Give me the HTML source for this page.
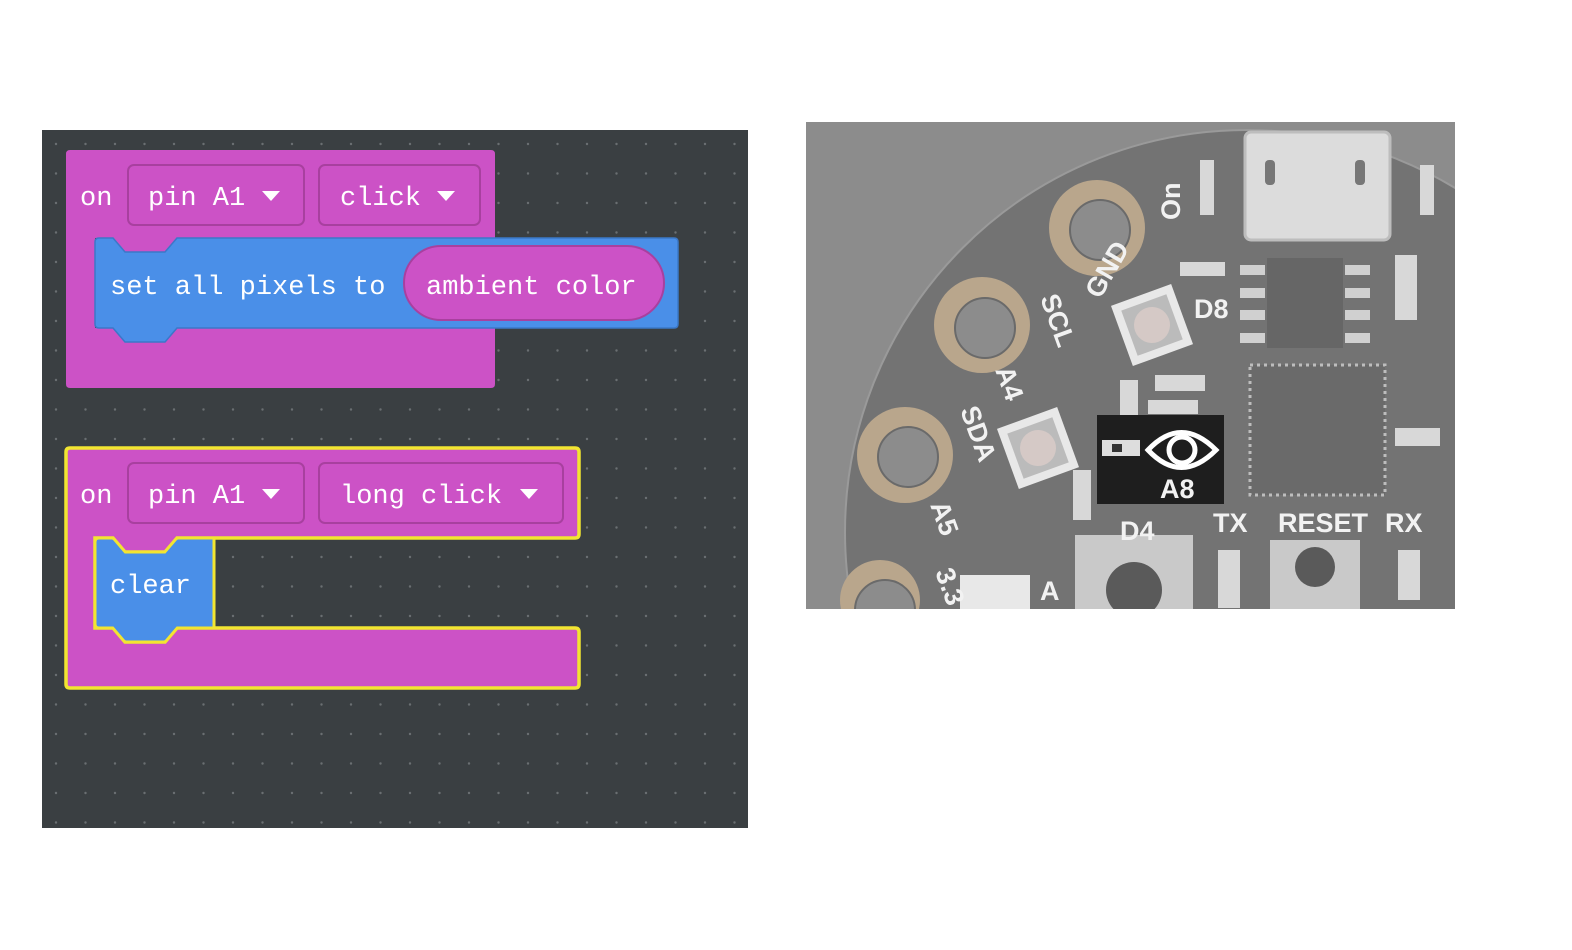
<!DOCTYPE html>
<html><head><meta charset="utf-8"><style>
html,body{margin:0;padding:0;background:#fff;}
svg{display:block}
text{font-family:"Liberation Mono",monospace;fill:#fff;font-size:27px}
.pl{font-family:"Liberation Sans",sans-serif;fill:#f2f2f2;font-weight:bold}
</style></head><body>
<svg width="1572" height="950" viewBox="0 0 1572 950" xmlns="http://www.w3.org/2000/svg">
<defs>
<pattern id="dots" x="42" y="130" width="29.5" height="29.5" patternUnits="userSpaceOnUse">
<circle cx="14" cy="14" r="1.2" fill="#6a6f72"/>
</pattern>
<clipPath id="photo"><rect x="806" y="122" width="649" height="487"/></clipPath>
</defs>
<rect x="42" y="130" width="706" height="698" fill="#3a3f42"/>
<rect x="42" y="130" width="706" height="698" fill="url(#dots)"/>

<!-- block 1 -->
<path d="M70 150 H491 Q495 150 495 154 V238 H177 L165 252 H125 L113 238 H95 V328 H495 V384 Q495 388 491 388 H70 Q66 388 66 384 V154 Q66 150 70 150 Z" fill="#cc52c6"/>
<rect x="128" y="165" width="176" height="60" rx="6" fill="#cc52c6" stroke="#a8409f" stroke-width="2"/>
<rect x="319" y="165" width="161" height="60" rx="6" fill="#cc52c6" stroke="#a8409f" stroke-width="2"/>
<text x="80" y="205">on</text>
<text x="148" y="205">pin A1</text>
<path d="M262 191 h18 l-9 10 z" fill="#fff"/>
<text x="340" y="205">click</text>
<path d="M437 191 h18 l-9 10 z" fill="#fff"/>
<path d="M99 238 H113 L125 252 H165 L177 238 H674 Q678 238 678 242 V324 Q678 328 674 328 H177 L165 342 H125 L113 328 H99 Q95 328 95 324 V242 Q95 238 99 238 Z" fill="#4a8fe8" stroke="#3b78c8" stroke-width="1.5"/>
<text x="110" y="294">set all pixels to</text>
<rect x="404" y="246" width="260" height="74" rx="37" fill="#cc52c6" stroke="#a8409f" stroke-width="2"/>
<text x="426" y="294">ambient color</text>

<!-- block 2 -->
<path d="M70 448 H575 Q579 448 579 452 V534 Q579 538 575 538 H177 L165 552 H125 L113 538 H95 V628 H113 L125 642 H165 L177 628 H575 Q579 628 579 632 V684 Q579 688 575 688 H70 Q66 688 66 684 V452 Q66 448 70 448 Z" fill="#cc52c6" stroke="#f2e531" stroke-width="3.5"/>
<rect x="128" y="463" width="176" height="60" rx="6" fill="#cc52c6" stroke="#a8409f" stroke-width="2"/>
<rect x="319" y="463" width="244" height="60" rx="6" fill="#cc52c6" stroke="#a8409f" stroke-width="2"/>
<text x="80" y="503">on</text>
<text x="148" y="503">pin A1</text>
<path d="M262 489 h18 l-9 10 z" fill="#fff"/>
<text x="340" y="503">long click</text>
<path d="M520 489 h18 l-9 10 z" fill="#fff"/>
<path d="M99 538 H113 L125 552 H165 L177 538 H214 V628 H177 L165 642 H125 L113 628 H99 Q95 628 95 624 V542 Q95 538 99 538 Z" fill="#4a8fe8" stroke="#f2e531" stroke-width="3"/>
<path d="M113 540 L125 554 H165 L177 540 H212 V626 H177 L165 640 H125 L113 626 H97 V540 Z" fill="#4a8fe8"/>
<text x="110" y="593">clear</text>

<!-- photo -->
<g clip-path="url(#photo)">
<rect x="806" y="122" width="649" height="487" fill="#8c8c8c"/>
<circle cx="1247" cy="532" r="402" fill="#737373" stroke="#9a9a9a" stroke-width="2"/>
<g fill="#b9a68c">
<circle cx="1097" cy="228" r="48"/><circle cx="982" cy="325" r="48"/><circle cx="905" cy="455" r="48"/><circle cx="880" cy="600" r="40"/>
</g>
<g fill="#8c8c8c" stroke="#6a6a6a" stroke-width="2">
<circle cx="1100" cy="230" r="30"/><circle cx="985" cy="328" r="30"/><circle cx="908" cy="457" r="30"/><circle cx="885" cy="610" r="30"/>
</g>
<rect x="1245" y="132" width="145" height="108" rx="6" fill="#dcdcdc" stroke="#bdbdbd" stroke-width="3"/>
<rect x="1265" y="160" width="10" height="25" rx="4" fill="#777"/><rect x="1355" y="160" width="10" height="25" rx="4" fill="#777"/>
<rect x="1267" y="258" width="76" height="90" fill="#666"/>
<g fill="#d0d0d0"><rect x="1240" y="265" width="25" height="10"/><rect x="1240" y="288" width="25" height="10"/><rect x="1240" y="310" width="25" height="10"/><rect x="1240" y="333" width="25" height="10"/><rect x="1345" y="265" width="25" height="10"/><rect x="1345" y="288" width="25" height="10"/><rect x="1345" y="310" width="25" height="10"/><rect x="1345" y="333" width="25" height="10"/></g>
<rect x="1250" y="365" width="135" height="130" fill="#6a6a6a" stroke="#bdbdbd" stroke-width="3" stroke-dasharray="3 4"/>
<g transform="rotate(-20 1152 325)"><rect x="1120" y="293" width="64" height="64" fill="#e8e8e8"/><rect x="1128" y="301" width="48" height="48" fill="#bbb"/><circle cx="1152" cy="325" r="18" fill="#d5c9c6"/></g>
<g transform="rotate(-20 1038 448)"><rect x="1006" y="416" width="64" height="64" fill="#e8e8e8"/><rect x="1014" y="424" width="48" height="48" fill="#bbb"/><circle cx="1038" cy="448" r="18" fill="#d5c9c6"/></g>
<rect x="960" y="575" width="70" height="40" fill="#e8e8e8"/>
<rect x="1075" y="535" width="118" height="80" fill="#c9c9c9"/><circle cx="1134" cy="590" r="28" fill="#5a5a5a"/>
<rect x="1270" y="540" width="90" height="70" fill="#c9c9c9"/><circle cx="1315" cy="567" r="20" fill="#5a5a5a"/>
<g fill="#d8d8d8"><rect x="1180" y="262" width="45" height="14"/><rect x="1155" y="375" width="50" height="16"/><rect x="1148" y="400" width="50" height="14"/><rect x="1120" y="380" width="18" height="45"/><rect x="1073" y="470" width="18" height="50"/><rect x="1395" y="428" width="45" height="18"/><rect x="1200" y="160" width="14" height="55"/><rect x="1420" y="165" width="14" height="50"/><rect x="1395" y="255" width="22" height="65"/><rect x="1218" y="550" width="22" height="58"/><rect x="1398" y="550" width="22" height="50"/></g>
<rect x="1097" y="415" width="127" height="89" fill="#1e1e1e"/>
<rect x="1102" y="440" width="38" height="16" fill="#ddd"/><rect x="1112" y="444" width="10" height="8" fill="#333"/>
<path d="M1148 450 Q1181 415 1216 450 Q1181 485 1148 450 Z" fill="none" stroke="#fff" stroke-width="5"/>
<circle cx="1182" cy="450" r="13" fill="none" stroke="#fff" stroke-width="5"/>
<text class="pl" x="1160" y="498" font-size="30">A8</text>
<text class="pl" x="1120" y="540" font-size="28">D4</text>
<text class="pl" x="1213" y="532" font-size="28">TX</text>
<text class="pl" x="1278" y="532" font-size="28">RESET</text>
<text class="pl" x="1385" y="532" font-size="28">RX</text>
<text class="pl" x="1194" y="318" font-size="28">D8</text>
<text class="pl" x="1040" y="600" font-size="26">A</text>
<text class="pl" font-size="28" transform="translate(1180 220) rotate(-90)">On</text>
<text class="pl" font-size="28" transform="translate(1100 300) rotate(-60)">GND</text>
<text class="pl" font-size="28" transform="translate(1040 298) rotate(70)">SCL</text>
<text class="pl" font-size="28" transform="translate(995 370) rotate(70)">A4</text>
<text class="pl" font-size="28" transform="translate(960 410) rotate(70)">SDA</text>
<text class="pl" font-size="26" transform="translate(930 505) rotate(70)">A5</text>
<text class="pl" font-size="26" transform="translate(935 572) rotate(70)">3.3</text>
</g>
</svg>
</body></html>
